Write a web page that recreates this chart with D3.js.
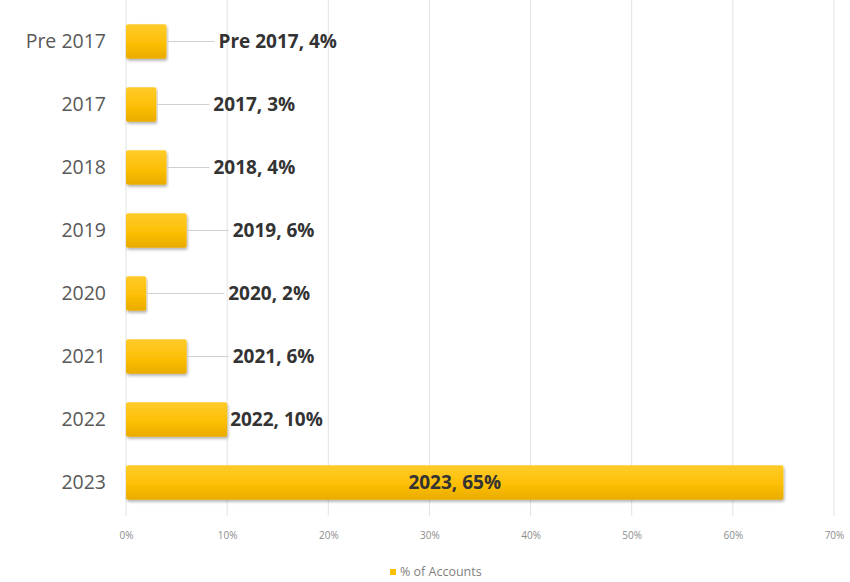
<!DOCTYPE html>
<html>
<head>
<meta charset="utf-8">
<script src="https://cdn.jsdelivr.net/npm/d3@7"></script>
<style>
  body { margin: 0; background: #fff; }
  svg text { font-family: "Open Sans", Lato, sans-serif; }
</style>
</head>
<body>
<div id="chart"></div>
<script>
// chart data
var years = ["Pre 2017", "2017", "2018", "2019", "2020", "2021", "2022", "2023"];
var shares = [4, 3, 4, 6, 2, 6, 10, 65];
var xTicks = [0, 10, 20, 30, 40, 50, 60, 70];
var seriesName = "% of Accounts";

// where each callout sits, in pixels past the end of its bar
var labelGap = [52, 57, 47, 46, 82, 46, 3, null];

var svgWidth = 850;
var svgHeight = 582;

var margin = { top: 10, right: 16, bottom: 67, left: 126 };

var svg = d3.select("#chart")
    .append("svg")
    .attr("width", svgWidth)
    .attr("height", svgHeight);

var defs = svg.append("defs");
var grad = defs.append("linearGradient")
    .attr("id", "barFill")
    .attr("x1", 0).attr("y1", 0).attr("x2", 0).attr("y2", 1);
grad.append("stop").attr("offset", "0%").attr("stop-color", "#ffcb2b");
grad.append("stop").attr("offset", "55%").attr("stop-color", "#fdbf06");
grad.append("stop").attr("offset", "100%").attr("stop-color", "#e9ab00");

var shadow = defs.append("filter").attr("id", "shadow")
    .attr("x", "-5%").attr("y", "-20%").attr("width", "110%").attr("height", "150%");
shadow.append("feDropShadow")
    .attr("dx", 1).attr("dy", 2).attr("stdDeviation", 1.5)
    .attr("flood-color", "#000").attr("flood-opacity", 0.3);

var chartGroup = svg.append("g")
    .attr("transform", `translate(${margin.left}, ${margin.top})`);

var xScale = d3.scaleLinear()
    .domain([0, 70])
    .range([0, 708]);

var yScale = d3.scaleBand()
    .domain(years)
    .range([0, 504])
    .paddingInner(0.45)
    .paddingOuter(0.225);

// vertical gridlines
chartGroup.append("g")
    .selectAll("line")
    .data(xTicks)
    .enter()
    .append("line")
    .attr("x1", d => xScale(d))
    .attr("x2", d => xScale(d))
    .attr("y1", -margin.top)
    .attr("y2", 506)
    .attr("stroke", "#e3e3e3")
    .attr("stroke-width", 1);

// bottom axis, ticks only as text
var bottomAxis = d3.axisBottom(xScale)
    .tickValues(xTicks)
    .tickFormat(d => d + "%")
    .tickSize(0)
    .tickPadding(0);

var xAxisG = chartGroup.append("g")
    .attr("transform", `translate(0, 522)`)
    .call(bottomAxis);
xAxisG.select(".domain").remove();
xAxisG.selectAll("text")
    .attr("fill", "#8c8c8c")
    .style("font-size", "10px");

// left axis with category names
var leftAxis = d3.axisLeft(yScale).tickSize(0).tickPadding(20);
var yAxisG = chartGroup.append("g").call(leftAxis);
yAxisG.select(".domain").remove();
yAxisG.selectAll("text")
    .attr("fill", "#595959")
    .style("font-size", "19.5px");

// bars
var rows = years.map((y, i) => ({ year: y, value: shares[i], gap: labelGap[i] }));

chartGroup.selectAll("rect.bar")
    .data(rows)
    .enter()
    .append("rect")
    .attr("class", "bar")
    .attr("x", 0)
    .attr("y", d => yScale(d.year))
    .attr("width", d => xScale(d.value))
    .attr("height", yScale.bandwidth())
    .attr("rx", 2)
    .attr("fill", "url(#barFill)")
    .attr("filter", "url(#shadow)");

// leader lines for the outside callouts
chartGroup.selectAll("line.leader")
    .data(rows.filter(d => d.gap !== null && d.gap > 10))
    .enter()
    .append("line")
    .attr("class", "leader")
    .attr("x1", d => xScale(d.value))
    .attr("x2", d => xScale(d.value) + d.gap - 4)
    .attr("y1", d => yScale(d.year) + yScale.bandwidth() / 2)
    .attr("y2", d => yScale(d.year) + yScale.bandwidth() / 2)
    .attr("stroke", "#d0d0d0")
    .attr("stroke-width", 1);

// callout labels
chartGroup.selectAll("text.callout")
    .data(rows)
    .enter()
    .append("text")
    .attr("class", "callout")
    .attr("x", d => d.gap === null ? xScale(d.value) / 2 : xScale(d.value) + d.gap)
    .attr("y", d => yScale(d.year) + yScale.bandwidth() / 2)
    .attr("dy", "0.35em")
    .attr("text-anchor", d => d.gap === null ? "middle" : "start")
    .attr("fill", "#333")
    .style("font-size", "19px")
    .style("font-weight", "bold")
    .text(d => d.year + ", " + d.value + "%");

// legend
var legend = svg.append("g")
    .attr("transform", `translate(390, 572)`);
legend.append("rect")
    .attr("x", 0).attr("y", -3)
    .attr("width", 6).attr("height", 6)
    .attr("fill", "#fdbf06");
legend.append("text")
    .attr("x", 10).attr("y", 0)
    .attr("dy", "0.35em")
    .attr("fill", "#7f7f7f")
    .style("font-size", "12.5px")
    .text(seriesName);
</script>
</body>
</html>
